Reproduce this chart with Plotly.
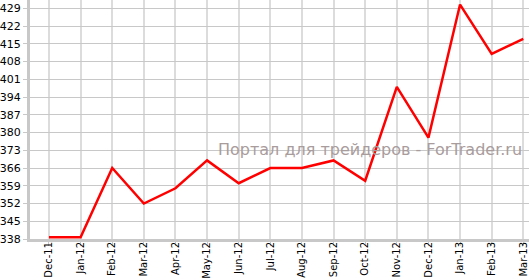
import plotly.graph_objects as go

months = ["Dec-11", "Jan-12", "Feb-12", "Mar-12", "Apr-12", "May-12", "Jun-12", "Jul-12",
          "Aug-12", "Sep-12", "Oct-12", "Nov-12", "Dec-12", "Jan-13", "Feb-13", "Mar-13"]
values = [338.7, 338.7, 366, 352, 358, 369, 360, 366, 366, 369, 361, 398, 378, 430.5, 411, 417]
y_ticks = [338, 345, 352, 359, 366, 373, 380, 387, 394, 401, 408, 415, 422, 429]
watermark = "Портал для трейдеров - ForTrader.ru"

fig = go.Figure()
fig.add_trace(go.Scatter(x=months, y=values, mode="lines",
                         line=dict(color="#ff0000", width=2.5), hoverinfo="skip"))

fig.add_annotation(text=watermark, xref="paper", yref="paper", x=0.99, y=0.375,
                   xanchor="right", yanchor="middle", showarrow=False,
                   font=dict(family="DejaVu Sans", size=16, color="#a99c9c"))

fig.update_layout(
    width=529, height=280, margin=dict(l=30, r=0, t=0, b=41),
    paper_bgcolor="white", plot_bgcolor="white", showlegend=False,
    font=dict(family="DejaVu Sans", size=10, color="#000000"),
)
fig.update_xaxes(type="category", range=[-0.6, 15.18], tickangle=-90, automargin=False,
                 showgrid=True, gridcolor="#dcdcdc", gridwidth=2,
                 showline=True, linecolor="#c8c8c8", linewidth=3,
                 ticks="outside", ticklen=4, tickcolor="#c8c8c8", ticklabelstandoff=-8,
                 tickfont=dict(family="DejaVu Sans", size=10), zeroline=False)
fig.update_yaxes(range=[338, 432.3], tickvals=y_ticks, automargin=False,
                 showgrid=True, gridcolor="#c8c8c8", gridwidth=1,
                 showline=True, linecolor="#c8c8c8", linewidth=3,
                 ticks="outside", ticklen=4, tickcolor="#c8c8c8",
                 tickfont=dict(size=11), zeroline=False)

fig.write_html("out.html")
